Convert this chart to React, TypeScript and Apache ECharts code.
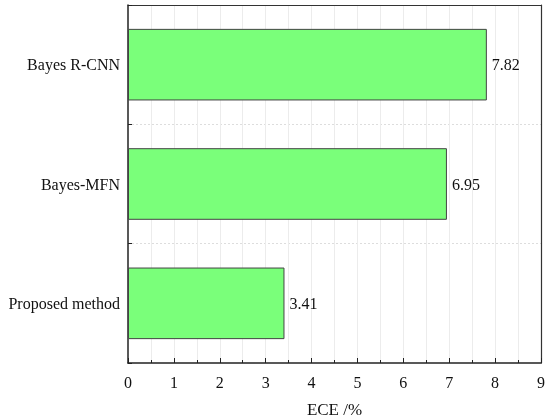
import React, { useEffect, useRef } from "react";
import * as echarts from "echarts";

const categories = ["Proposed method", "Bayes-MFN", "Bayes R-CNN"];
const eceValues = [3.41, 6.95, 7.82];
const xTicks = [0, 1, 2, 3, 4, 5, 6, 7, 8, 9];

const FONT = "Liberation Serif";

export default function App() {
  const ref = useRef<HTMLDivElement>(null);
  useEffect(() => {
    if (!ref.current) return;
    const chart = echarts.init(ref.current, undefined, { renderer: "svg" });
    chart.setOption({
      animation: false,
      textStyle: { fontFamily: FONT },
      grid: {
        left: 128,
        right: 9,
        top: 5,
        bottom: 57,
        show: false,
        containLabel: false,
        outerBoundsMode: "none",
      },
      xAxis: [
        {
          type: "value",
          min: xTicks[0],
          max: xTicks[xTicks.length - 1],
          interval: 1,
          name: "ECE /%",
          nameLocation: "middle",
          nameGap: 38,
          nameTextStyle: { fontFamily: FONT, fontSize: 17, color: "#111" },
          axisLine: { show: true, lineStyle: { color: "#222", width: 1.5 } },
          axisTick: { show: true, inside: true, length: 5, lineStyle: { color: "#222" } },
          minorTick: { show: true, splitNumber: 2, length: 3, lineStyle: { color: "#222" } },
          splitLine: { show: true, showMinLine: false, showMaxLine: false, lineStyle: { color: "#ececec", width: 1 } },
          minorSplitLine: { show: true, lineStyle: { color: "#ececec", width: 1 } },
          axisLabel: { fontFamily: FONT, fontSize: 16, color: "#111", margin: 11 },
        },
        {
          type: "value",
          position: "top",
          min: xTicks[0],
          max: xTicks[xTicks.length - 1],
          interval: 1,
          axisLine: { show: true, lineStyle: { color: "#333", width: 1.2 } },
          axisTick: { show: false },
          splitLine: { show: false },
          axisLabel: { show: false },
        },
      ],
      yAxis: [
        {
          type: "category",
          data: categories,
          axisLine: { show: true, lineStyle: { color: "#222", width: 1.5 } },
          axisTick: { show: true, inside: true, alignWithLabel: true, length: 4, lineStyle: { color: "#222" } },
          splitLine: { show: true, showMinLine: false, showMaxLine: false, lineStyle: { color: "#dddddd", type: [2, 2], width: 1 } },
          axisLabel: { fontFamily: FONT, fontSize: 16, color: "#111", margin: 8 },
        },
        {
          type: "category",
          data: categories,
          position: "left",
          offset: 0,
          axisLine: { show: false },
          axisTick: { show: true, inside: true, alignWithLabel: false, length: 4, lineStyle: { color: "#222" } },
          splitLine: { show: false },
          axisLabel: { show: false },
        },
        {
          type: "category",
          data: categories,
          position: "right",
          axisLine: { show: true, lineStyle: { color: "#333", width: 1.2 } },
          axisTick: { show: false },
          splitLine: { show: false },
          axisLabel: { show: false },
        },
      ],
      series: [
        {
          type: "bar",
          data: eceValues,
          xAxisIndex: 0,
          yAxisIndex: 0,
          barWidth: "60%",
          itemStyle: { color: "#7aff7a", borderColor: "#444", borderWidth: 1 },
          label: {
            show: true,
            position: "right",
            distance: 5,
            fontFamily: FONT,
            fontSize: 16,
            color: "#111",
            formatter: (p: any) => p.value.toFixed(2),
          },
        },
      ],
    });
    return () => chart.dispose();
  }, []);
  return (
    <div
      ref={ref}
      style={{ position: "fixed", left: 0, top: 0, width: 550, height: 420 }}
    />
  );
}
